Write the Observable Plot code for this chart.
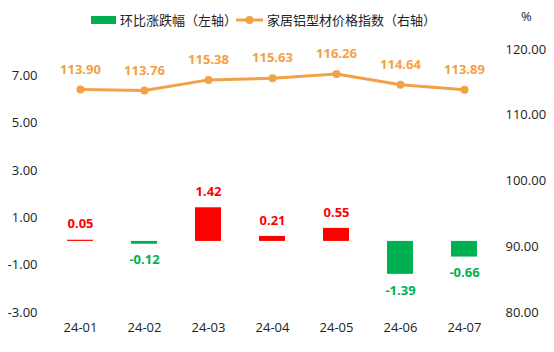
<!DOCTYPE html>
<html><head><meta charset="utf-8">
<script src="https://cdn.jsdelivr.net/npm/d3@7"></script>
<script src="https://cdn.jsdelivr.net/npm/@observablehq/plot@0.6"></script>
<style>
body{margin:0;background:#fff;font-family:"Open Sans","Noto Sans CJK SC",sans-serif;}
#wrap{position:relative;width:554px;height:352px;}
#legend{position:absolute;left:0;top:0;width:554px;height:40px;font-size:13px;color:#222;font-family:"Noto Sans CJK SC",sans-serif;}
.li{position:absolute;top:10px;display:flex;align-items:center;white-space:nowrap;}
#pct{position:absolute;left:521px;top:7px;font-size:13px;color:#222;font-family:"Open Sans",sans-serif;}
</style></head>
<body><div id="wrap"><div id="chart"></div>
<div id="legend">
 <div class="li" style="left:91px"><span style="display:inline-block;width:25px;height:8px;background:#00B050;margin-right:4px"></span>环比涨跌幅（左轴）</div>
 <div class="li" style="left:236px"><svg width="27" height="10" style="margin-right:4px"><line x1="0" y1="5" x2="27" y2="5" stroke="#F2A146" stroke-width="3"/><circle cx="13.5" cy="5" r="4" fill="#F2A146"/></svg>家居铝型材价格指数（右轴）</div>
 <div id="pct">%</div>
</div></div>
<script>
const months = ["24-01","24-02","24-03","24-04","24-05","24-06","24-07"];
const changes = [0.05,-0.12,1.42,0.21,0.55,-1.39,-0.66];
const indexValues = [113.90,113.76,115.38,115.63,116.26,114.64,113.89];
const leftTicks = [-3,-1,1,3,5,7];
const rightTicks = [80,90,100,110,120];

const data = months.map((m,i)=>({month:m, change:changes[i], index:indexValues[i]}));
const L0=-3, L1=8.1, R0=80, R1=120;
const toLeft = v => L0 + (v-R0)*(L1-L0)/(R1-R0);
const fromLeft = u => R0 + (u-L0)*(R1-R0)/(L1-L0);
const orange="#F2A146", red="#FF0000", green="#00B050";
const col = d => d.change>=0 ? red : green;
const pos = data.filter(d=>d.change>=0), neg = data.filter(d=>d.change<0);

const chart = Plot.plot({
  width:554, height:352,
  marginTop:49, marginBottom:40, marginLeft:47, marginRight:58,
  style:{fontFamily:'"Open Sans","Noto Sans CJK SC",sans-serif', fontSize:"13px", color:"#222"},
  x:{type:"band", domain:months, paddingInner:0.6, paddingOuter:0.3, label:null},
  y:{domain:[L0,L1], label:null},
  marks:[
    Plot.axisX({tickSize:0, tickPadding:10, fontSize:13, label:null}),
    Plot.axisY({ticks:leftTicks, tickSize:0, tickPadding:10, tickFormat:d=>d.toFixed(2), fontSize:13, label:null}),
    Plot.axisY({anchor:"right", ticks:rightTicks.map(toLeft), tickSize:0, tickPadding:9, tickFormat:u=>fromLeft(u).toFixed(2), fontSize:13, label:null}),
    Plot.barY(data,{x:"month", y1:0, y2:"change", fill:col}),
    Plot.text(pos,{x:"month", y:"change", text:d=>d.change.toFixed(2), fill:red, fontWeight:"bold", fontSize:13, dy:-16}),
    Plot.text(neg,{x:"month", y:"change", text:d=>d.change.toFixed(2), fill:green, fontWeight:"bold", fontSize:13, dy:16}),
    Plot.line(data,{x:"month", y:d=>toLeft(d.index), stroke:orange, strokeWidth:3}),
    Plot.dot(data,{x:"month", y:d=>toLeft(d.index), r:4, fill:orange}),
    Plot.text(data,{x:"month", y:d=>toLeft(d.index), text:d=>d.index.toFixed(2), fill:orange, fontWeight:"bold", fontSize:13, dy:-20})
  ]
});
document.getElementById("chart").appendChild(chart);
</script></body></html>
